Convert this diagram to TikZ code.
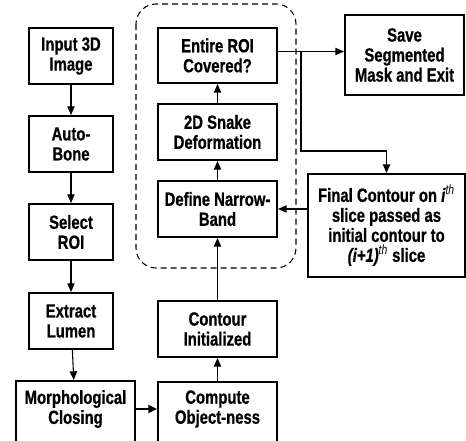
\documentclass[tikz,border=0pt]{standalone}
\usepackage{fontspec}
\setmainfont{Liberation Sans}[FakeStretch=0.78, BoldFeatures={FakeBold=0.7}, BoldItalicFeatures={FakeBold=0.7}]
\usetikzlibrary{arrows.meta}
\tikzset{
  bx/.style 2 args={draw, line width=1.5pt, align=center, inner sep=0pt,
    minimum width=#1*0.75pt, minimum height=#2*0.75pt,
    font=\fontsize{14.3}{15}\selectfont\bfseries},
  txt/.style={align=center, inner sep=0pt, font=\fontsize{14.3}{15}\selectfont\bfseries},
  arr/.style={line width=0.8pt, -{Triangle[length=6.5pt,width=5.5pt]}},
  arrb/.style={line width=1.6pt, -{Triangle[length=6.5pt,width=6pt]}},
  grp/.style={line width=0.8pt, dash pattern=on 4.5pt off 3pt, rounded corners=15pt}
}
\begin{document}
\begin{tikzpicture}[x=0.75pt,y=-0.75pt]
\useasboundingbox (0,0) rectangle (466,441);
\clip (0,0) rectangle (466,441);
% dashed group
\draw[grp] (136,4) rectangle (296,268);
% left column
\node[bx={84}{56}] (in) at (71,56) {Input 3D\\Image};
\node[bx={84}{56}] (auto) at (71,144) {Auto-\\Bone};
\node[bx={84}{56}] (sel) at (71,232) {Select\\ROI};
\node[bx={84}{56}] (ext) at (71,321) {Extract\\Lumen};
\node[bx={119}{72}] (morph) at (75.5,417) {};
\node[txt] (morphT) at (75.5,409) {Morphological\\Closing};
% middle column
\node[bx={119}{55}] (entire) at (217.5,55.5) {Entire ROI\\Covered?};
\node[bx={119}{56}] (snake) at (217.5,132) {2D Snake\\Deformation};
\node[bx={119}{56}] (define) at (217.5,209) {Define Narrow-\\Band};
\node[bx={119}{56}] (contour) at (217.5,329) {Contour\\Initialized};
\node[bx={119}{72}] (compute) at (217.5,418) {};
\node[txt] (computeT) at (217.5,409) {Compute\\Object-ness};
% right
\node[bx={119}{80}] (save) at (404.5,55) {Save\\Segmented\\Mask and Exit};
\node[bx={157}{103}] (final) at (386.5,225.5) {Final Contour on \textit{i}\textsuperscript{\textit{\fontseries{m}\selectfont th}}\\slice passed as\\initial contour to\\\textit{(i+1)}\textsuperscript{\textit{\fontseries{m}\selectfont th}} slice};
% connectors
\draw[arr] (in) -- (auto);
\draw[arr] (auto) -- (sel);
\draw[arr] (sel) -- (ext);
\draw[arr] (ext) -- (morph);
\draw[arrb] (morph.east |- morphT) -- (compute.west |- morphT);
\draw[arr] (compute) -- (contour);
\draw[arr] (contour) -- (define);
\draw[arr] (define) -- (snake);
\draw[arr] (snake) -- (entire);
\coordinate (br) at (301,51);
\coordinate (bb) at (301,151);
\draw[arr] ([yshift=3pt]entire.east) -- ([yshift=3pt]entire.east -| save.west);
\draw[arr] (br) -- (bb) -| (final.north);
\draw[arr] (final.west |- define.east) -- (define.east);
\end{tikzpicture}
\end{document}
